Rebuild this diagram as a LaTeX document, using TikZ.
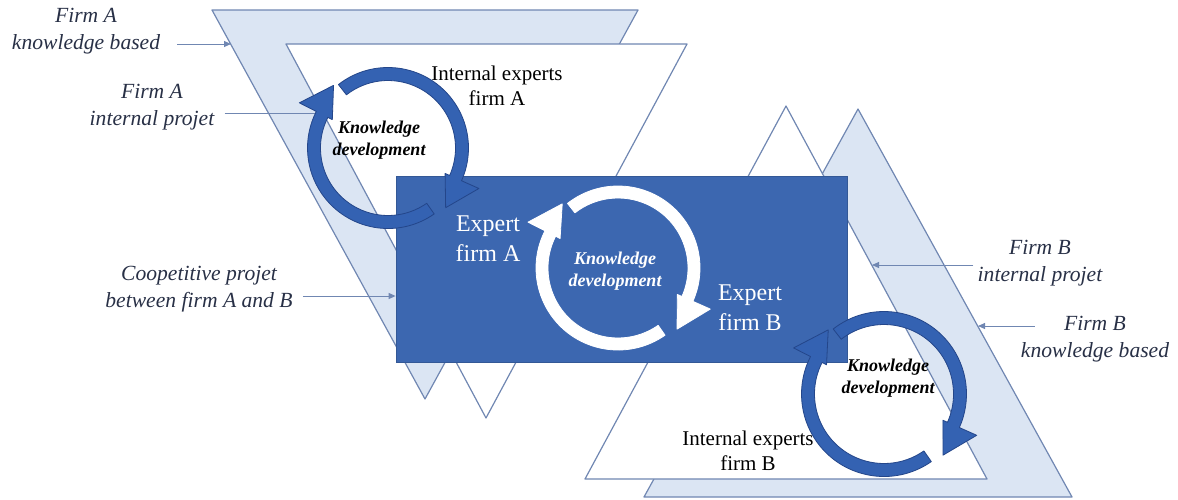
\documentclass[tikz,border=0pt]{standalone}
\usepackage{fontspec}
\setmainfont{Liberation Serif}
\usetikzlibrary{positioning,arrows.meta,calc}
\definecolor{kmLight}{RGB}{219,229,243}
\definecolor{kmEdge}{RGB}{112,135,178}
\definecolor{kmBlue}{RGB}{60,103,176}
\definecolor{kmRing}{RGB}{52,98,178}
\definecolor{kmRingEdge}{RGB}{36,70,138}
\definecolor{kmText}{RGB}{40,48,70}

% curved arrow of a cycle: centre, radius, half width, start, end, tip angle, style
\newcommand{\cyclearrow}[7]{%
  \filldraw[#7] ($(#1)+(#4:#2+#3)$) arc[start angle=#4, end angle=#5, radius=#2+#3]
    -- ($(#1)+(#5:#2+#3+19)$) -- ($(#1)+(#6:#2+9)$) -- ($(#1)+(#5:#2-#3-5)$)
    -- ($(#1)+(#5:#2-#3)$) arc[start angle=#5, end angle=#4, radius=#2-#3] -- cycle;}

\begin{document}
\begin{tikzpicture}[x=0.5pt, y=-0.5pt,
  lab/.style={font=\fontsize{10.8}{13.5}\selectfont\itshape, text=kmText, align=center, inner sep=0pt},
  labarrow/.style={kmEdge, line width=0.5pt, -{Triangle[length=3.5pt,width=3pt]}},
  tri/.style={draw=kmEdge, line width=0.6pt, line join=round},
  inexp/.style={font=\fontsize{10.5}{12.5}\selectfont, align=center, inner sep=0pt},
  expert/.style={font=\fontsize{12}{15}\selectfont, text=white, align=center, inner sep=0pt},
  kdev/.style={font=\fontsize{9}{11}\selectfont\bfseries\itshape, align=center, inner sep=0pt},
  ring/.style={fill=kmRing, draw=kmRingEdge, line width=0.4pt, line join=round},
  wring/.style={fill=white, draw=white, line width=0.4pt, line join=round}]
  \useasboundingbox (0,0) rectangle (1178,499);

  % Firm A knowledge based and internal project
  \fill[kmLight, tri] (212,10) -- (638,10) -- (425,399) -- cycle;
  \fill[white, tri] (286,44) -- (687,44) -- (486,418) -- cycle;

  % Firm B knowledge based and internal project
  \fill[kmLight, tri] (858,109) -- (1072,497) -- (644,497) -- cycle;
  \fill[white, tri] (786,106) -- (987,479) -- (585,479) -- cycle;

  % Coopetitive project
  \node[fill=kmBlue, draw=kmBlue!85!black, line width=0.4pt, minimum width=225.5pt, minimum height=93pt, inner sep=0pt]
    (coop) at (621.5,269) {};

  % Labels on the left
  \node[lab] (kbA) at (86,31) {Firm A\\knowledge based};
  \node[lab] (ipA) at (152,107) {Firm A\\internal projet};
  \node[lab] (coopL) at (199,289) {Coopetitive projet\\between firm A and B};

  % Labels on the right
  \node[lab] (ipB) at (1040,263) {Firm B\\internal projet};
  \node[lab] (kbB) at (1095,339) {Firm B\\knowledge based};

  \coordinate (kbAt) at (231,44);
  \coordinate (ipAt) at (323,113);
  \coordinate (coopS) at ([xshift=5pt,yshift=-3.5pt]coopL.east);
  \coordinate (ipBt) at (872,265);
  \coordinate (kbBt) at (978,326);

  \draw[labarrow] ([xshift=8.5pt,yshift=-6.5pt]kbA.east) -- (kbAt);
  \draw[labarrow] ([xshift=5pt,yshift=-3pt]ipA.east) -- (ipAt);
  \draw[labarrow] (coopS) -- (coopS -| coop.west);
  \draw[labarrow] ([xshift=-2pt,yshift=-1pt]ipB.west) -- (ipBt);
  \draw[labarrow] ([xshift=7pt,yshift=6.5pt]kbB.west) -- (kbBt);

  % Knowledge development cycles
  \coordinate (rA) at (388,148);
  \coordinate (rC) at (618,268);
  \coordinate (rB) at (884,394);
  \cyclearrow{rA}{74}{6.5}{232}{384}{406}{ring}
  \cyclearrow{rA}{74}{6.5}{55}{207}{229}{ring}
  \cyclearrow{rC}{76}{6}{232}{384}{406}{wring}
  \cyclearrow{rC}{76}{6}{55}{207}{229}{wring}
  \cyclearrow{rB}{76}{6.5}{232}{384}{406}{ring}
  \cyclearrow{rB}{76}{6.5}{55}{207}{229}{ring}

  \node[kdev] (kdA) at (379,140) {Knowledge\\development};
  \node[kdev, text=white] (kdC) at (615,271) {Knowledge\\development};
  \node[kdev] (kdB) at (888,378) {Knowledge\\development};

  % Experts
  \node[inexp] (ieA) at (497,86) {Internal experts\\firm A};
  \node[inexp] (ieB) at (748,451) {Internal experts\\firm B};
  \node[expert] (exA) at (488,239) {Expert\\firm A};
  \node[expert] (exB) at (750,308) {Expert\\firm B};
\end{tikzpicture}
\end{document}
